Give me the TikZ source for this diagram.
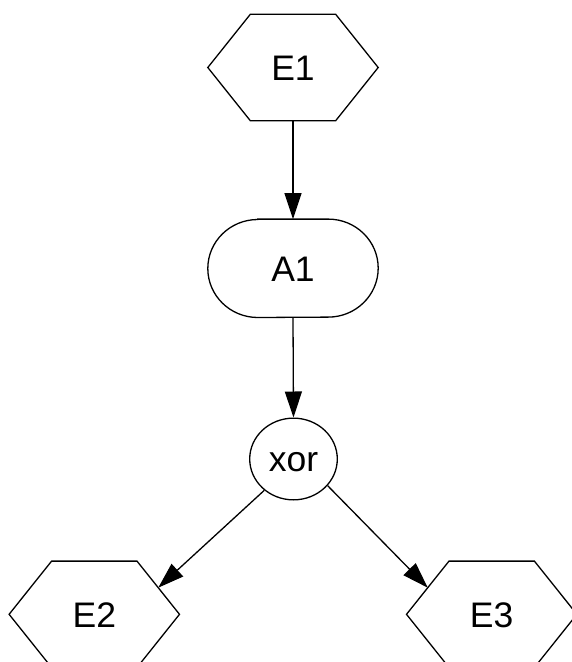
\documentclass[tikz,border=0pt]{standalone}
\usepackage{fontspec}
\setmainfont{Liberation Sans}
\usetikzlibrary{arrows.meta,shapes.geometric,calc}

\newcommand\hexout[1]{\draw[edge] (#1.west) -- ([xshift=42.5pt]#1.north west) -- ([xshift=-42.5pt]#1.north east) -- (#1.east) -- ([xshift=-42.5pt]#1.south east) -- ([xshift=42.5pt]#1.south west) -- cycle;}

\begin{document}
\begin{tikzpicture}[x=1pt,y=1pt,
  lbl/.style={font=\fontsize{35.5}{40}\selectfont, inner sep=0pt, text height=25.4pt, text depth=0pt},
  hexbox/.style={lbl, minimum width=170pt, minimum height=106pt},
  edge/.style={line width=1.3pt},
  arr/.style={edge, -{Triangle[length=26pt,width=17pt]}},
  ]
\useasboundingbox (0,0) rectangle (571,-662);
\node[hexbox] (E1) at (293,-67.5) {E1};
\hexout{E1}
\node[lbl, minimum width=170pt, minimum height=98pt] (A1) at (293,-268.3) {A1};
\draw[edge] ([xshift=50pt]A1.north west) -- ([xshift=-50pt]A1.north east)
  arc[start angle=90,end angle=-90,x radius=50pt,y radius=49pt]
  -- ([xshift=50pt]A1.south west)
  arc[start angle=270,end angle=90,x radius=50pt,y radius=49pt] -- cycle;
\node[lbl, ellipse, draw, line width=1.3pt, minimum width=87.6pt, minimum height=81.7pt] (xor) at (293.5,-459) {xor};
\node[hexbox] (E2) at (94.3,-614.3) {E2};
\hexout{E2}
\node[hexbox] (E3) at (491.7,-614.3) {E3};
\hexout{E3}
\draw[arr] (E1.south) -- (A1.north);
\draw[arr] (A1.south) -- (xor.north);
\draw[arr] (xor.227) -- ($(E2.east)!0.5!([xshift=-42.5pt]E2.north east)$);
\draw[arr] (xor.-38) -- ($(E3.west)!0.5!([xshift=42.5pt]E3.north west)$);
\end{tikzpicture}
\end{document}
